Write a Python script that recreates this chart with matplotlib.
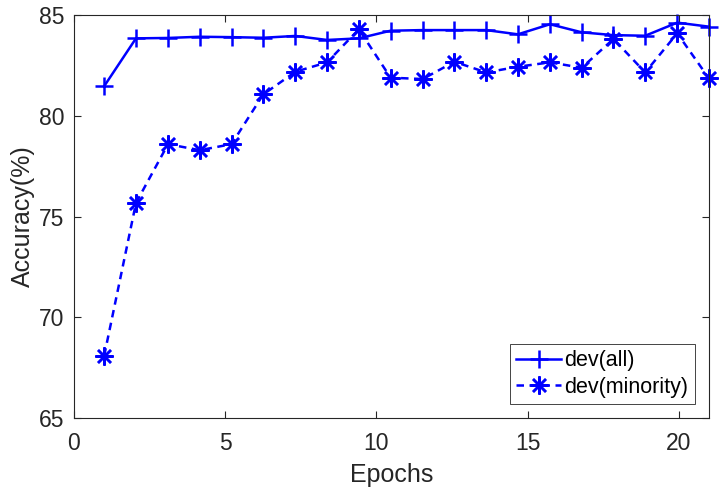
import matplotlib
matplotlib.use("Agg")
import matplotlib.pyplot as plt

epochs = [1.00, 2.05, 3.11, 4.16, 5.21, 6.26, 7.32, 8.37, 9.42, 10.47,
          11.53, 12.58, 13.63, 14.68, 15.74, 16.79, 17.84, 18.89, 19.95, 21.00]
dev_all = [81.47, 83.84, 83.86, 83.92, 83.90, 83.87, 83.96, 83.76, 83.84, 84.22,
           84.25, 84.25, 84.25, 84.04, 84.54, 84.14, 84.00, 83.97, 84.62, 84.42]
dev_minority = [68.10, 75.67, 78.59, 78.29, 78.59, 81.06, 82.18, 82.65, 84.29, 81.89,
                81.82, 82.68, 82.15, 82.43, 82.65, 82.38, 83.81, 82.15, 84.09, 81.85]
labels = ["dev(all)", "dev(minority)"]
xticks = [0, 5, 10, 15, 20]
yticks = [65, 70, 75, 80, 85]

plt.rcParams['font.family'] = ['Liberation Sans', 'DejaVu Sans']

fig = plt.figure(figsize=(7.19, 4.88), dpi=100)
ax = fig.add_axes([0.1029, 0.1434, 0.8832, 0.8259])

ax.plot(epochs, dev_all, color='#0000ff', lw=1.8, marker='+', markersize=13,
        markeredgewidth=1.8, label=labels[0], clip_on=False)
ax.plot(epochs, dev_minority, color='#0000ff', lw=1.8, linestyle=(0, (3.0, 2.2)),
        marker=(8, 2, 0), markersize=13, markeredgewidth=1.8, label=labels[1],
        clip_on=False)

ax.set_xlim(0, 21)
ax.set_ylim(65, 85)
ax.set_xticks(xticks)
ax.set_yticks(yticks)

ax.tick_params(axis='both', direction='in', length=5, width=0.8, colors='#262626',
               labelsize=16.5, top=True, right=True)
ax.tick_params(axis='x', pad=10)
ax.tick_params(axis='y', pad=7)
for s in ax.spines.values():
    s.set_color('#262626')
    s.set_linewidth(0.8)

ax.set_xlabel('Epochs', fontsize=18, color='#262626', labelpad=6)
ax.set_ylabel('Accuracy(%)', fontsize=18, color='#262626', labelpad=3)

leg = ax.legend(loc='lower right', fontsize=15.5, frameon=True, fancybox=False,
                edgecolor='#262626', framealpha=1, borderaxespad=0.65,
                handlelength=2.1, handletextpad=0.15, labelspacing=0.25,
                borderpad=0.3)
leg.get_frame().set_linewidth(0.6)
for t in leg.get_texts():
    t.set_color('black')

fig.savefig('out.png', dpi=100)
